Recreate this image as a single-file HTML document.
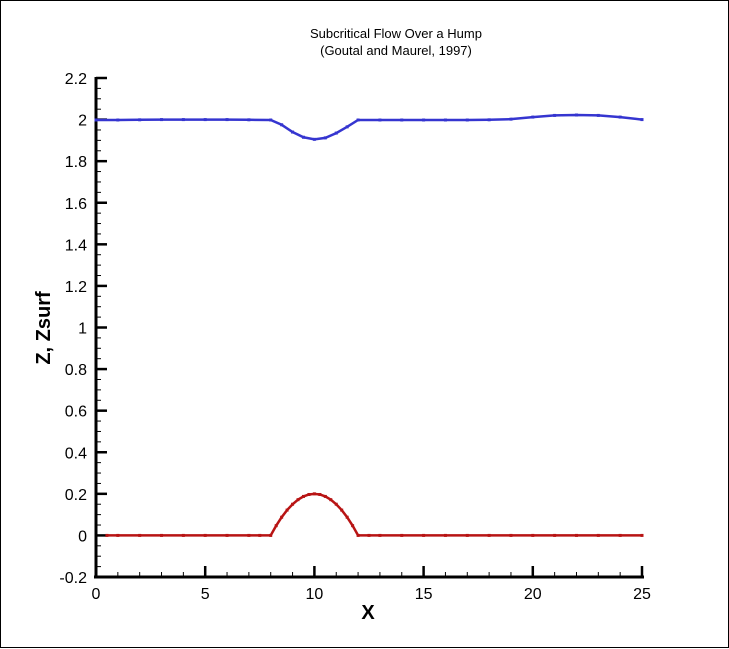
<!DOCTYPE html>
<html><head><meta charset="utf-8"><style>
html,body{margin:0;padding:0;background:#fff;}
#wrap{position:relative;width:729px;height:648px;box-sizing:border-box;border:1px solid #000;}
svg{position:absolute;left:0;top:0;}
text{font-family:"Liberation Sans",Arial,sans-serif;}
</style></head><body>
<div id="wrap">
<svg id="chart" width="729" height="648"></svg>
</div>
<script>
const bedX = [0.5,1,2,3,4,5,6,7,7.5,8,8.25,8.5,8.75,9,9.25,9.5,9.75,10,10.25,10.5,10.75,11,11.25,11.5,11.75,12,12.5,13,14,15,16,17,18,19,20,21,22,23,24,25];
const bedZ = [0,0,0,0,0,0,0,0,0,0,0.0469,0.0875,0.1219,0.15,0.1719,0.1875,0.1969,0.2,0.1969,0.1875,0.1719,0.15,0.1219,0.0875,0.0469,0,0,0,0,0,0,0,0,0,0,0,0,0,0,0];
const surfX = [0,1,2,3,4,5,6,7,8,8.5,9,9.5,10,10.5,11,11.5,12,13,14,15,16,17,18,19,20,21,22,23,24,25];
const surfZ = [1.998,1.998,1.999,2.0,2.0,2.0,2.0,1.999,1.998,1.975,1.94,1.915,1.905,1.912,1.935,1.965,1.998,1.998,1.998,1.998,1.998,1.998,1.999,2.002,2.012,2.02,2.022,2.02,2.012,2.0];
const xTicks = [0,5,10,15,20,25];
const yTicks = [-0.2,0,0.2,0.4,0.6,0.8,1,1.2,1.4,1.6,1.8,2,2.2];

const NS="http://www.w3.org/2000/svg";
const svg=document.getElementById('chart');
const X0=95,X1=641,Y0=576,Y1=77;
const xs=v=>X0+(v-0)/25*(X1-X0);
const ys=v=>Y0-(v+0.2)/2.4*(Y0-Y1);
function el(t,a,p){const e=document.createElementNS(NS,t);for(const k in a)e.setAttribute(k,a[k]);(p||svg).appendChild(e);return e;}

const title1=el('text',{x:395,y:37,'font-size':13,'text-anchor':'middle'});title1.textContent='Subcritical Flow Over a Hump';


const title2=el('text',{x:395,y:54,'font-size':13,'text-anchor':'middle'});title2.textContent='(Goutal and Maurel, 1997)';



// axes
const axX=el('line',{x1:X0-2,y1:Y0,x2:X1+2,y2:Y0,stroke:'#000','stroke-width':3});


const axY=el('line',{x1:X0,y1:Y0+1,x2:X0,y2:Y1-1,stroke:'#000','stroke-width':3});



for(let v=0;v<=25;v++){
  const maj=v%5===0;
  el('line',{x1:xs(v),y1:Y0,x2:xs(v),y2:Y0-(maj?11:5),stroke:'#000','stroke-width':maj?2.5:1});
}
xTicks.forEach(v=>{const t=el('text',{x:xs(v),y:Y0+22,'font-size':16,'text-anchor':'middle'});t.textContent=v;

});
for(let i=0;i<=48;i++){
  const v=-0.2+i*0.05;const maj=i%4===0;
  el('line',{x1:X0,y1:ys(v),x2:X0+(maj?11:5),y2:ys(v),stroke:'#000','stroke-width':maj?2.5:1});
}
yTicks.forEach(v=>{const t=el('text',{x:X0-9,y:ys(v)+6,'font-size':16,'text-anchor':'end'});t.textContent=Math.round(v*10)/10;

});

const xl=el('text',{x:367,y:618,'font-size':20,'font-weight':'bold','text-anchor':'middle'});xl.textContent='X';


const yl=el('text',{x:0,y:0,'font-size':20,'font-weight':'bold','text-anchor':'middle',transform:'translate(49,327) rotate(-90)'});yl.textContent='Z, Zsurf';



function series(xa,za,color,name){
  const g=el('g',{});
  
  
  el('polyline',{points:xa.map((x,i)=>xs(x)+','+ys(za[i])).join(' '),fill:'none',stroke:color,'stroke-width':2.5},g);
  xa.forEach((x,i)=>{const c=el('rect',{x:xs(x)-1.5,y:ys(za[i])-1.5,width:3,height:3,fill:color},g);
    
    });
}
series(surfX,surfZ,'#3535d0','surface-series');
series(bedX,bedZ,'#b81414','bed-series');
</script>
</body></html>
